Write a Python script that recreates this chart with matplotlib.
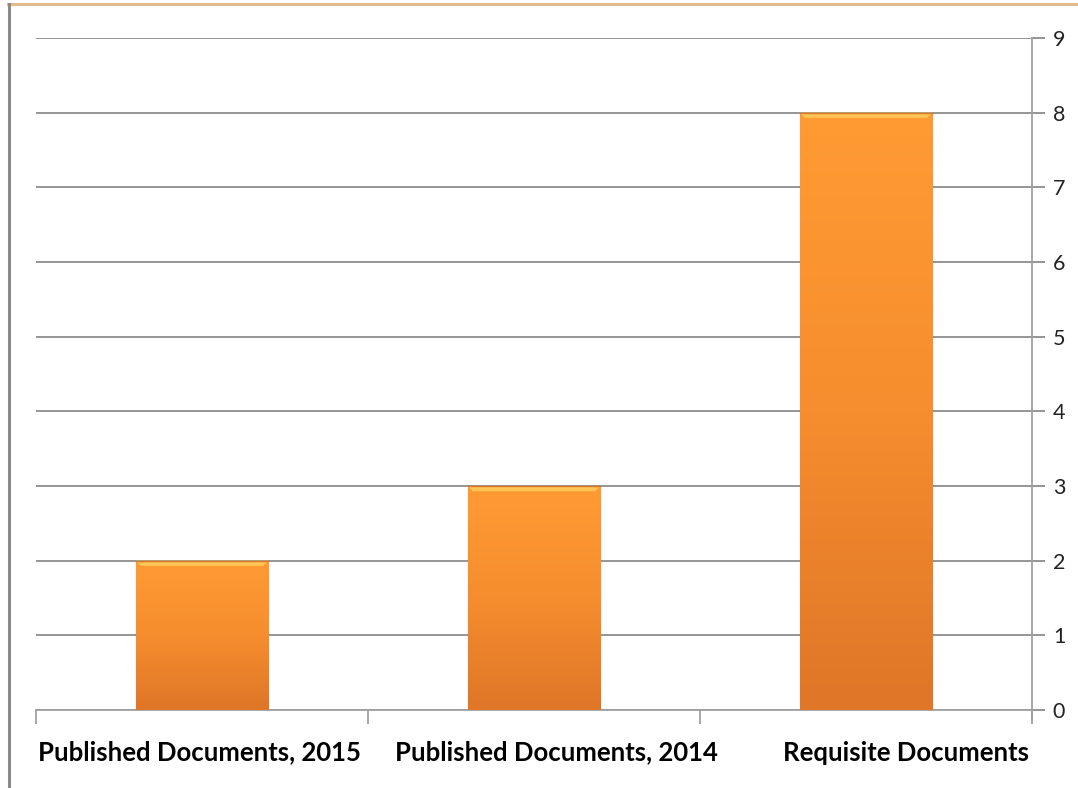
import matplotlib
matplotlib.use('Agg')
import matplotlib.pyplot as plt
import matplotlib.transforms as mtransforms
import numpy as np
from matplotlib.lines import Line2D
from matplotlib.colors import LinearSegmentedColormap

categories = ['Published Documents, 2015', 'Published Documents, 2014', 'Requisite Documents']
values = [2, 3, 8]
yticks = [0, 1, 2, 3, 4, 5, 6, 7, 8, 9]

plt.rcParams['font.family'] = ['Lato', 'DejaVu Sans']

fig = plt.figure(figsize=(10.78, 7.88), dpi=100)
ax = fig.add_axes([0.0334, 0.0990, 0.9239, 0.8528])

x = np.arange(len(categories))
bars = ax.bar(x, values, width=0.4, color='#F68B2C', edgecolor='#C8681E', linewidth=0.8, zorder=3)

# vertical gradient inside each bar
cmap = LinearSegmentedColormap.from_list('org', ['#FF9B33', '#F68D2E', '#DF7628'])
grad = np.linspace(0, 1, 256).reshape(-1, 1)
for b in bars:
    x0, w, h = b.get_x(), b.get_width(), b.get_height()
    im = ax.imshow(grad, cmap=cmap, aspect='auto', extent=[x0, x0 + w, 0, h],
                   origin='upper', zorder=3.5)
    im.set_clip_path(b)
    # top bevel highlight
    ax.fill([x0, x0 + w, x0 + w * 0.96, x0 + w * 0.04], [h, h, h - 0.07, h - 0.07],
            color='#FFD060', alpha=0.8, lw=0, zorder=4)
    ax.plot([x0, x0 + w], [h, h], color='#D8782A', lw=1, zorder=4)

ax.set_xlim(-0.5, len(categories) - 0.5)
ax.set_ylim(0, 9)
ax.yaxis.tick_right()
ax.set_yticks(yticks)
ax.grid(axis='y', color='#8C8C8C', lw=1.3, zorder=0)
ax.tick_params(axis='y', length=9, width=1.3, color='#8C8C8C', labelsize=15.5, pad=6,
               labelcolor='#222222')

ax.set_xticks(x)
ax.set_xticklabels(categories, fontsize=18.5, fontweight='bold')
ax.tick_params(axis='x', length=0, pad=22)
ax.set_xticks(np.arange(-0.5, len(categories)), minor=True)
ax.tick_params(axis='x', which='minor', length=10, width=1.3, color='#A0A0A0')

# excel nudged the labels a bit to the right
shifts = [-2, 22, 40]
for lab, dx in zip(ax.get_xticklabels(), shifts):
    lab.set_transform(lab.get_transform() + mtransforms.ScaledTranslation(dx / 100, 0, fig.dpi_scale_trans))

for s in ['top', 'left']:
    ax.spines[s].set_visible(False)
ax.spines['right'].set_color('#A0A0A0')
ax.spines['right'].set_linewidth(1.3)
ax.spines['bottom'].set_color('#A0A0A0')
ax.spines['bottom'].set_linewidth(1.3)
ax.spines['right'].set_bounds(-0.12, 9)

# outer frame pieces
fig.add_artist(Line2D([8 / 1078, 1], [1 - 4 / 788, 1 - 4 / 788], color='#E2BB8C', lw=2.2))
fig.add_artist(Line2D([9 / 1078, 9 / 1078], [0, 1 - 4 / 788], color='#8A8A8A', lw=2.2))

plt.savefig('out.png', dpi=100)
plt.close()
